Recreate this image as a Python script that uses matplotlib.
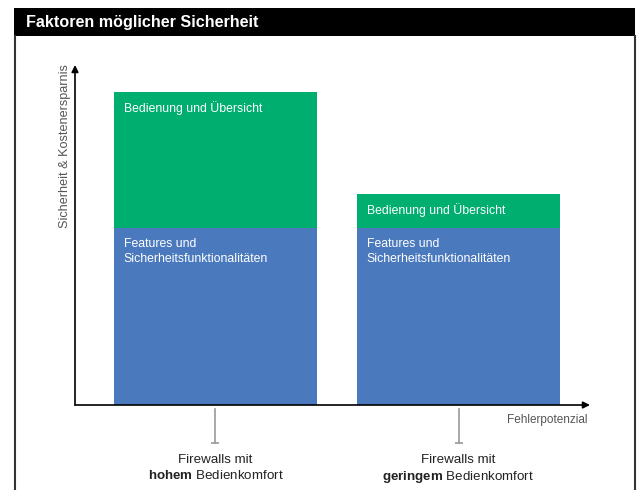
import matplotlib
matplotlib.use("Agg")
import matplotlib.pyplot as plt
import matplotlib.transforms as mtrans
from matplotlib.patches import Rectangle
from matplotlib.lines import Line2D

categories = ["Firewalls mit\n$\\mathbf{hohem}$ Bedienkomfort",
              "Firewalls mit\n$\\mathbf{geringem}$ Bedienkomfort"]
features = [5.2, 5.2]       # Features und Sicherheitsfunktionalitaeten
bedienung = [4.0, 1.0]      # Bedienung und Uebersicht
seg_labels = ["Features und\nSicherheitsfunktionalitäten", "Bedienung und Übersicht"]

BLUE = "#4a7abd"
GREEN = "#00ae70"
GRAY = "#555555"

plt.rcParams['font.family'] = ['Liberation Sans', 'DejaVu Sans']
plt.rcParams['mathtext.fontset'] = 'custom'
plt.rcParams['mathtext.rm'] = 'Liberation Sans'
plt.rcParams['mathtext.bf'] = 'Liberation Sans:bold'

W, H = 638, 490
fig = plt.figure(figsize=(W / 100, H / 100), dpi=100)

def fx(px):
    return px / W

def fy(py):
    return 1 - py / H

# frame + title bar
fig.add_artist(Rectangle((fx(14), fy(36)), fx(621), 28 / H, transform=fig.transFigure,
                         facecolor="black", edgecolor="none"))
fig.add_artist(Line2D([fx(15), fx(15)], [fy(36), fy(490)], color="#333333", lw=1.5))
fig.add_artist(Line2D([fx(635), fx(635)], [fy(36), fy(490)], color="#333333", lw=1.5))
fig.text(fx(26), fy(22), "Faktoren möglicher Sicherheit", color="white", fontsize=11.6,
         fontweight="bold", va="center", ha="left")

# chart area: left 75px, baseline 405px, top 65px, right 590px
ax = fig.add_axes([fx(75), fy(405), fx(590 - 75), (405 - 65) / H])
x = [0, 1]
width = 0.835
ax.bar(x, features, width, color=BLUE)
ax.bar(x, bedienung, width, bottom=features, color=GREEN)
ax.set_xlim(-0.578, 1.541)
ax.set_ylim(0, 10)
for s in ax.spines.values():
    s.set_visible(False)
ax.set_xticks([])
ax.set_yticks([])
ax.patch.set_alpha(0)

# axis arrows
ax.annotate("", xy=(0, 1), xytext=(0, 0), xycoords="axes fraction",
            arrowprops=dict(arrowstyle="-|>", color="black", lw=1.2, mutation_scale=10,
                            shrinkA=0, shrinkB=0))
ax.annotate("", xy=(1, 0), xytext=(0, 0), xycoords="axes fraction",
            arrowprops=dict(arrowstyle="-|>", color="black", lw=1.2, mutation_scale=10,
                            shrinkA=0, shrinkB=0))
ax.text(-0.008, 0.762, "Sicherheit & Kostenersparnis", transform=ax.transAxes, rotation=90,
        ha="right", va="center", color=GRAY, fontsize=9.1)
ax.text(0.995, -0.025, "Fehlerpotenzial", transform=ax.transAxes, ha="right", va="top",
        color=GRAY, fontsize=8.5)

# segment labels
for i in x:
    left = i - width / 2 + 0.04
    ax.text(left, features[i] + bedienung[i] - 0.27, seg_labels[1], color="white",
            fontsize=8.8, va="top", ha="left")
    ax.text(left, features[i] - 0.3, seg_labels[0], color="white", fontsize=8.8,
            va="top", ha="left", linespacing=1.25)

# category marker lines and labels below the axis
tr = mtrans.blended_transform_factory(ax.transData, fig.transFigure)
for i, cat in zip(x, categories):
    ax.plot([i, i], [fy(409), fy(443)], color="#999999", lw=1.2, transform=tr, clip_on=False)
    ax.plot([i], [fy(443)], marker="_", ms=6, color="#999999", mew=1.2, transform=tr,
            clip_on=False)
    ax.text(i, fy(454), cat, transform=tr, ha="center", va="top", fontsize=9.6,
            color="#222222", linespacing=1.25)

fig.savefig("out.png", dpi=100)
